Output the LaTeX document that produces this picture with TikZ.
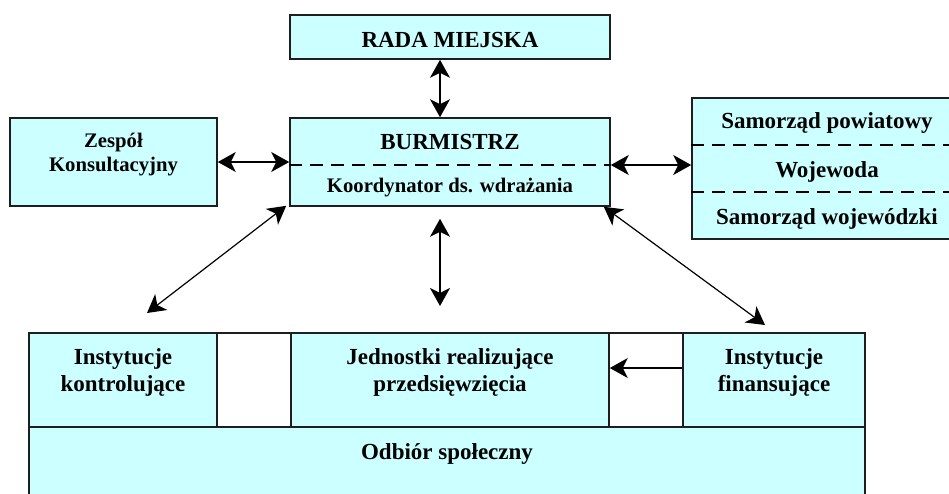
\documentclass[tikz,border=0pt]{standalone}
\usepackage{fontspec}
\setmainfont{Liberation Serif}
\usetikzlibrary{arrows.meta}
\definecolor{boxcyan}{RGB}{204,255,255}
\definecolor{edge}{RGB}{30,30,30}

\begin{document}
\begin{tikzpicture}[x=1pt,y=-1pt,thick]

% Define styles
\tikzset{
  box/.style={draw=edge,line width=1.6pt,fill=boxcyan,inner sep=0pt},
  blank/.style={draw=edge,line width=1.6pt,fill=white,inner sep=0pt},
  txt/.style={inner sep=0pt,align=center,font=\bfseries\fontsize{23}{26.5}\selectfont},
  smalltxt/.style={inner sep=0pt,align=center,font=\bfseries\fontsize{20.7}{24}\selectfont},
  link/.style={line width=1.6pt,-{Stealth[length=18pt,width=20pt,inset=5pt]}},
  dbllink/.style={line width=1.6pt,{Stealth[length=18pt,width=20pt,inset=5pt]}-{Stealth[length=18pt,width=20pt,inset=5pt]}},
  sep/.style={line width=1.5pt,dash pattern=on 13pt off 8pt},
}

% Page frame
\useasboundingbox (0,0) rectangle (949,493);
\clip (0,0) rectangle (949,493);

% Top boxes
\node[box,minimum width=320pt,minimum height=44pt] (rada) at (450,37) {};
\node[box,minimum width=207pt,minimum height=88pt] (zesp) at (113.5,162) {};
\node[box,minimum width=320pt,minimum height=88pt] (burm) at (450,162) {};
\node[box,minimum width=270pt,minimum height=141pt] (samo) at (827,168.5) {};

% Bottom block
\node[blank,minimum width=836pt,minimum height=94pt] (row) at (447,380) {};
\node[box,minimum width=836pt,minimum height=73pt] (odbior) at (447,463.5) {};
\node[box,minimum width=188pt,minimum height=94pt] (kontrol) at (123,380) {};
\node[box,minimum width=318pt,minimum height=94pt] (jedn) at (450,380) {};
\node[box,minimum width=182pt,minimum height=94pt] (finans) at (774,380) {};

% Dashed separators
\draw[sep] ([yshift=-3pt]burm.west) -- ([yshift=-3pt]burm.east);
\draw[sep] ([yshift=23.5pt]samo.west) -- ([yshift=23.5pt]samo.east);
\draw[sep] ([yshift=-23.5pt]samo.west) -- ([yshift=-23.5pt]samo.east);

% Labels
\node[txt,anchor=base] (rada-t) at ([yshift=-10pt]rada.center) {RADA MIEJSKA};
\node[txt,anchor=base] (burm-t) at ([yshift=13pt]burm.center) {BURMISTRZ};
\node[smalltxt,anchor=base] (koord-t) at ([yshift=-30pt]burm.center) {Koordynator ds. wdrażania};
\node[smalltxt,anchor=north] (zesp-t) at ([yshift=-13.5pt]zesp.north) {\strut Zespół\\Konsultacyjny};
\node[txt,anchor=base] (samo1-t) at ([yshift=40.5pt]samo.center) {Samorząd powiatowy};
\node[txt,anchor=base] (samo2-t) at ([yshift=-8.5pt]samo.center) {Wojewoda};
\node[txt,anchor=base] (samo3-t) at ([yshift=-55.5pt]samo.center) {Samorząd wojewódzki};
\node[txt,anchor=north] (kontrol-t) at ([yshift=-13.5pt]kontrol.north) {\strut Instytucje\\kontrolujące};
\node[txt,anchor=north] (jedn-t) at ([yshift=-13.5pt]jedn.north) {\strut Jednostki realizujące\\przedsięwzięcia};
\node[txt,anchor=north] (finans-t) at ([yshift=-13.5pt]finans.north) {\strut Instytucje\\finansujące};
\node[txt,anchor=base] (odbior-t) at ([yshift=-33pt]odbior.north) {Odbiór społeczny};

% Free arrow ends above the bottom block
\coordinate (kontrol-in) at (147,313);
\coordinate (jedn-in) at (440,306);
\coordinate (finans-in) at (765,325);

% Connectors
\draw[dbllink] ([xshift=-10pt]rada.south) -- ([xshift=-10pt]burm.north);
\draw[dbllink] (zesp.east) -- (burm.west);
\draw[dbllink] ([yshift=-3pt]burm.east) -- ([yshift=-3pt]burm.east -| samo.west);
\draw[dbllink,line width=1.2pt] ([xshift=-3pt,yshift=1pt]burm.south west) -- (kontrol-in);
\draw[dbllink] ([xshift=-10pt,yshift=-12pt]burm.south) -- (jedn-in);
\draw[dbllink,line width=1.2pt] ([xshift=-7pt]burm.south east) -- (finans-in);
\draw[link] ([yshift=12pt]finans.west) -- ([yshift=12pt]finans.west -| jedn.east);

\end{tikzpicture}
\end{document}
